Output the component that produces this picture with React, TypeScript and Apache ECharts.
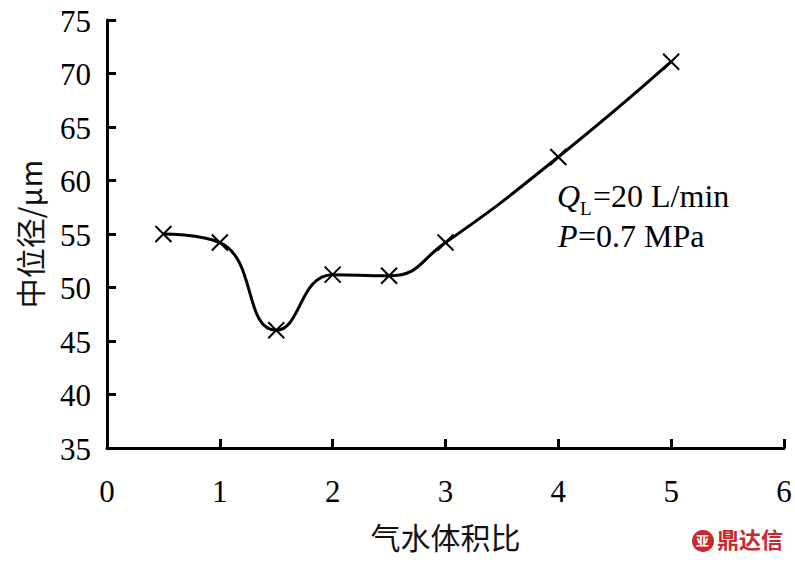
import React, { useEffect, useRef } from "react";
import * as echarts from "echarts";

const xValues = [0.5, 1, 1.5, 2, 2.5, 3, 4, 5];
const yValues = [55, 54.2, 46, 51.2, 51.1, 54.2, 62.2, 71.1];
const xTickLabels = [0, 1, 2, 3, 4, 5, 6];
const yTickLabels = [35, 40, 45, 50, 55, 60, 65, 70, 75];
const xAxisName = "气水体积比";
const yAxisName = "中位径/μm";

const serifFont = (size: number, italic = false) =>
  `${italic ? "italic " : ""}${size}px "Liberation Serif", "Times New Roman", serif`;
const cjk = "Noto Sans CJK SC";

export default function App() {
  const ref = useRef<HTMLDivElement>(null);
  useEffect(() => {
    if (!ref.current) return;
    const chart = echarts.init(ref.current, undefined, { renderer: "svg" });
    chart.setOption({
      animation: false,
      backgroundColor: "#fff",
      grid: { left: 107, right: 11, top: 20, bottom: 115, containLabel: false, outerBoundsMode: "none" },
      xAxis: {
        type: "value",
        min: 0,
        max: 6,
        interval: 1,
        name: xAxisName,
        nameLocation: "middle",
        nameGap: 73,
        nameTextStyle: { fontFamily: cjk, fontSize: 30, color: "#111" },
        axisLine: { lineStyle: { color: "#000", width: 3 } },
        axisTick: { inside: true, length: 9, lineStyle: { color: "#000", width: 3 } },
        axisLabel: { show: false },
        splitLine: { show: false },
      },
      yAxis: {
        type: "value",
        min: 35,
        max: 75,
        interval: 5,
        name: yAxisName,
        nameLocation: "middle",
        nameGap: 63,
        nameRotate: 90,
        nameTextStyle: { fontFamily: cjk, fontSize: 30, color: "#111" },
        axisLine: { lineStyle: { color: "#000", width: 3 } },
        axisTick: { inside: true, length: 9, lineStyle: { color: "#000", width: 3 } },
        axisLabel: { show: false },
        splitLine: { show: false },
      },
      series: [
        {
          type: "line",
          data: xValues.map((x, i) => [x, yValues[i]]),
          smooth: 0.5,
          symbol: "path://M0,0L10,10M10,0L0,10",
          symbolSize: 16,
          showAllSymbol: true,
          lineStyle: { color: "#000", width: 3 },
          itemStyle: { color: "none", borderColor: "#000", borderWidth: 2 },
        },
      ],
    });

    const finder = { xAxisIndex: 0, yAxisIndex: 0 };
    const tickTexts: any[] = [];
    xTickLabels.forEach((v) => {
      const [px, py] = chart.convertToPixel(finder, [v, 35]) as number[];
      tickTexts.push({
        type: "text",
        x: px,
        y: py + 43,
        style: {
          text: String(v),
          font: serifFont(31),
          fill: "#000",
          align: "center",
          verticalAlign: "middle",
          textAlign: "center",
          textVerticalAlign: "middle",
        },
      });
    });
    yTickLabels.forEach((v) => {
      const [px, py] = chart.convertToPixel(finder, [0, v]) as number[];
      tickTexts.push({
        type: "text",
        x: px - 16,
        y: py + 1,
        style: {
          text: String(v),
          font: serifFont(31),
          fill: "#000",
          align: "right",
          verticalAlign: "middle",
          textAlign: "right",
          textVerticalAlign: "middle",
        },
      });
    });

    chart.setOption({
      graphic: [
        ...tickTexts,
        { type: "text", left: 557, top: 180, style: { text: "Q", font: serifFont(32, true), fill: "#000" } },
        { type: "text", left: 580, top: 199, style: { text: "L", font: serifFont(19), fill: "#000" } },
        { type: "text", left: 593, top: 180, style: { text: "=20 L/min", font: serifFont(32), fill: "#000" } },
        { type: "text", left: 558, top: 220, style: { text: "P", font: serifFont(32, true), fill: "#000" } },
        { type: "text", left: 578, top: 220, style: { text: "=0.7 MPa", font: serifFont(32), fill: "#000" } },
        { type: "circle", shape: { cx: 703, cy: 541, r: 11 }, style: { fill: "#c9282d" } },
        { type: "text", left: 696, top: 533, style: { text: "亚", font: `bold 13px "Noto Sans CJK SC"`, fill: "#fff" } },
        { type: "text", left: 717, top: 527, style: { text: "鼎达信", font: `bold 22px "Noto Sans CJK SC"`, fill: "#c9282d" } },
      ],
    });
    return () => chart.dispose();
  }, []);
  return (
    <div
      ref={ref}
      style={{ position: "fixed", left: 0, top: 0, width: 795, height: 563 }}
    />
  );
}
